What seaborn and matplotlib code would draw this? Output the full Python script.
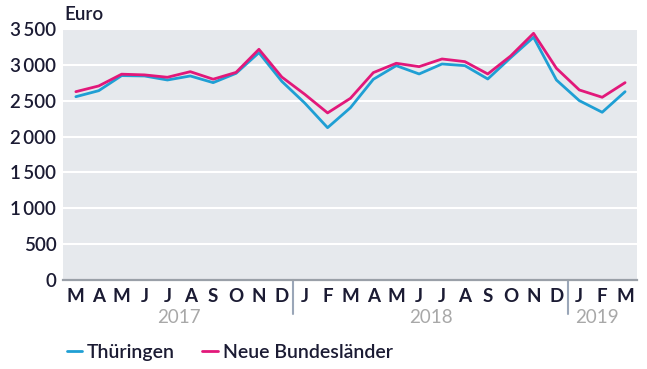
import matplotlib
matplotlib.use("Agg")
import matplotlib.pyplot as plt
from matplotlib.lines import Line2D
import seaborn as sns
import pandas as pd
import numpy as np

# Monthly values, March 2017 to March 2019
months = ["M", "A", "M", "J", "J", "A", "S", "O", "N", "D",
          "J", "F", "M", "A", "M", "J", "J", "A", "S", "O", "N", "D",
          "J", "F", "M"]
years = ["2017", "2018", "2019"]
year_spans = [(0, 9), (10, 21), (22, 24)]

thueringen = [2556, 2640, 2850, 2845, 2789, 2845, 2752, 2882, 3170, 2770,
              2468, 2124, 2403, 2799, 2989, 2873, 3012, 2989, 2803, 3100,
              3385, 2789, 2501, 2339, 2626]
neue_laender = [2626, 2706, 2870, 2860, 2827, 2905, 2800, 2895, 3217, 2830,
                2590, 2330, 2534, 2892, 3022, 2975, 3082, 3045, 2873, 3124,
                3440, 2952, 2650, 2548, 2752]

series_names = ["Thüringen", "Neue Bundesländer"]
colors = {"Thüringen": "#1f9fd4", "Neue Bundesländer": "#e2187a"}

df = pd.DataFrame({
    "idx": list(range(len(months))) * 2,
    "value": thueringen + neue_laender,
    "series": [series_names[0]] * len(months) + [series_names[1]] * len(months),
})

sns.set_theme(style="white")
plt.rcParams["font.family"] = ["Lato", "DejaVu Sans"]

text_color = "#1b1b33"
fs = 13.5

fig = plt.figure(figsize=(6.47, 3.69), dpi=100)
ax = fig.add_axes([0.0978, 0.2412, 0.886, 0.6802])
ax.set_facecolor("#e6e9ed")

sns.lineplot(data=df, x="idx", y="value", hue="series", palette=colors,
             linewidth=2.0, ax=ax, legend=False)

ax.set_ylim(0, 3500)
ax.set_xlim(-0.55, 24.5)
ax.set_yticks(np.arange(0, 3501, 500))
ax.set_yticklabels([f"{v:,}".replace(",", "\u2009") if v >= 1000 else str(v)
                    for v in range(0, 3501, 500)],
                   fontsize=fs, fontweight="semibold", color=text_color)
ax.set_xticks(range(len(months)))
ax.set_xticklabels(months, fontsize=fs, fontweight="bold", color=text_color)
ax.tick_params(axis="both", length=0, pad=5)
ax.tick_params(axis="x", pad=6)
ax.grid(axis="y", color="white", linewidth=1.5)
ax.grid(axis="x", visible=False)
ax.set_axisbelow(True)
for side in ["top", "right", "left"]:
    ax.spines[side].set_visible(False)
ax.spines["bottom"].set_color("#9aa0a8")
ax.spines["bottom"].set_linewidth(1.6)
ax.set_xlabel("")
ax.set_ylabel("")

# Year separators and year labels under the month letters
trans = ax.get_xaxis_transform()
for sep in [9.5, 21.5]:
    ax.plot([sep, sep], [0, -0.135], transform=trans, color="#9aa6b8",
            linewidth=1.5, clip_on=False)
for yr, (a, b) in zip(years, year_spans):
    xc = (a + b) / 2 if yr != "2019" else 22.75
    ax.text(xc, -0.15, yr, transform=trans, ha="center", va="center",
            fontsize=fs, color="#a8a8a8")

fig.text(0.1, 0.962, "Euro", fontsize=fs, fontweight="semibold",
         color=text_color, ha="left", va="center")

# Legend
handles = [Line2D([0], [0], color=colors[n], linewidth=2.0) for n in series_names]
leg = fig.legend(handles, series_names, loc="center left",
                 bbox_to_anchor=(0.076, 0.045), ncol=2, frameon=False,
                 handlelength=0.8, handletextpad=0.25, columnspacing=1.4,
                 prop={"size": 14, "weight": "semibold"})
for t in leg.get_texts():
    t.set_color(text_color)

fig.savefig("out.png", dpi=100)
